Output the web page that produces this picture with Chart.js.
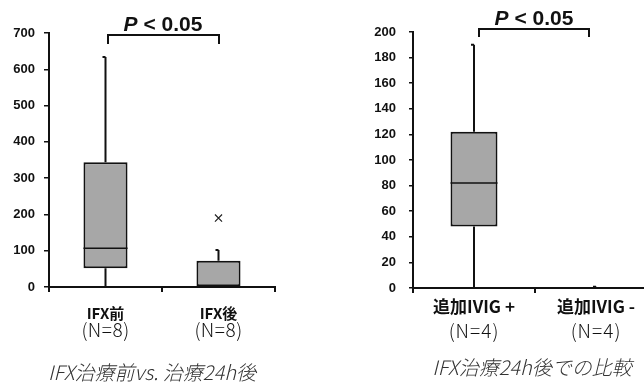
<!DOCTYPE html>
<html>
<head>
<meta charset="utf-8">
<script src="https://cdn.jsdelivr.net/npm/chart.js@4.4.1/dist/chart.umd.min.js"></script>
<style>
  html, body { margin: 0; padding: 0; background: #fff; overflow: hidden; width: 644px; height: 386px; }
  #left  { position: absolute; left: 0;     top: 0; }
  #right { position: absolute; left: 322px; top: 0; }
</style>
</head>
<body>
<canvas id="left" width="322" height="386"></canvas>
<canvas id="right" width="340" height="386"></canvas>
<script>
// --- DATA ---
const LEFT_CATS     = ['IFX前', 'IFX後'];
const LEFT_N        = ['(N=8)', '(N=8)'];
const LEFT_MIN      = [0, 0];
const LEFT_Q1       = [52, 0];
const LEFT_MED      = [107, 0];
const LEFT_Q3       = [344, 72];
const LEFT_MAX      = [634, 102];
const LEFT_OUTLIERS = [null, 190];
const LEFT_TICKS    = [0, 100, 200, 300, 400, 500, 600, 700];
const LEFT_TITLE    = 'IFX治療前vs. 治療24h後';

const RIGHT_CATS    = ['追加IVIG +', '追加IVIG -'];
const RIGHT_N       = ['(N=4)', '(N=4)'];
const RIGHT_MIN     = [0, 0];
const RIGHT_Q1      = [48, 0];
const RIGHT_MED     = [82, 0];
const RIGHT_Q3      = [122, 0.4];
const RIGHT_MAX     = [190, 1];
const RIGHT_TICKS   = [0, 20, 40, 60, 80, 100, 120, 140, 160, 180, 200];
const RIGHT_TITLE   = 'IFX治療24h後での比較';

const P_TEXT = '< 0.05';

const LATIN = "'Liberation Sans', Arial, sans-serif";
const CJK   = "'Noto Sans CJK JP', 'Liberation Sans', sans-serif";
const BOX_FILL = '#a7a7a7';

// whiskers, medians, labels, bracket
const boxExtras = {
    id: 'boxExtras',
    afterDatasetsDraw(chart, args, o) {
        const { ctx, chartArea } = chart;
        const xs = chart.scales.x, ys = chart.scales.y;
        const meta = chart.getDatasetMeta(0);
        ctx.save();
        ctx.strokeStyle = '#111';
        ctx.lineWidth = 2;
        o.q1.forEach((q1, i) => {
            const x = xs.getPixelForValue(i);
            const w = meta.data[i].width;
            ctx.beginPath();
            ctx.moveTo(x, ys.getPixelForValue(o.max[i]));
            ctx.lineTo(x, ys.getPixelForValue(o.q3[i]));
            ctx.moveTo(x, ys.getPixelForValue(q1));
            ctx.lineTo(x, ys.getPixelForValue(o.min[i]));
            // kleine Kappe
            ctx.moveTo(x - 3, ys.getPixelForValue(o.max[i]));
            ctx.lineTo(x, ys.getPixelForValue(o.max[i]));
            ctx.stroke();
            if (o.med[i] > 0) {
                ctx.lineWidth = 1.5;
                ctx.beginPath();
                ctx.moveTo(x - w / 2, ys.getPixelForValue(o.med[i]));
                ctx.lineTo(x + w / 2, ys.getPixelForValue(o.med[i]));
                ctx.stroke();
                ctx.lineWidth = 2;
            }
        });

        // category labels
        ctx.fillStyle = '#111';
        ctx.textAlign = 'center';
        ctx.textBaseline = 'middle';
        o.labels.forEach((lab, i) => {
            const x = xs.getPixelForValue(i);
            ctx.letterSpacing = '0px';
            ctx.font = `bold ${o.labelSize}px ${CJK}`;
            ctx.fillText(lab, x, chartArea.bottom + o.labelDy[0]);
            ctx.letterSpacing = o.nSpacing;
            ctx.font = `300 ${o.nSize}px ${CJK}`;
            ctx.fillText(o.ns[i], x, chartArea.bottom + o.labelDy[1]);
        });
        ctx.letterSpacing = '0px';

        // title
        ctx.fillStyle = '#333';
        ctx.font = `italic 300 20px ${CJK}`;
        ctx.fillText(o.title, o.titleX, o.titleY);

        // bracket
        const b = o.bracket;
        ctx.strokeStyle = '#111';
        ctx.lineWidth = 2;
        ctx.beginPath();
        ctx.moveTo(b.x0, b.y1);
        ctx.lineTo(b.x0, b.y0);
        ctx.lineTo(b.x1, b.y0);
        ctx.lineTo(b.x1, b.y1);
        ctx.stroke();

        ctx.fillStyle = '#111';
        ctx.textBaseline = 'alphabetic';
        ctx.textAlign = 'left';
        ctx.font = `italic bold 21px ${LATIN}`;
        const pw = ctx.measureText('P ').width;
        ctx.font = `bold 21px ${LATIN}`;
        const rw = ctx.measureText(P_TEXT).width;
        const sx = b.tx - (pw + rw) / 2;
        ctx.font = `italic bold 21px ${LATIN}`;
        ctx.fillText('P', sx, b.ty);
        ctx.font = `bold 21px ${LATIN}`;
        ctx.fillText(P_TEXT, sx + pw, b.ty);
        ctx.restore();
    }
};

function buildBox(id, cfg) {
    const datasets = [{
        type: 'bar',
        data: cfg.q1.map((q, i) => [q, cfg.q3[i]]),
        backgroundColor: BOX_FILL,
        borderColor: '#111',
        borderWidth: 2,
        borderSkipped: false,
        barPercentage: cfg.barPct,
        categoryPercentage: 1,
    }];
    if (cfg.outliers) {
        datasets.push({
            type: 'line',
            data: cfg.outliers,
            showLine: false,
            pointStyle: 'crossRot',
            pointRadius: 5,
            borderColor: '#222',
            borderWidth: 1.2,
        });
    }
    return new Chart(document.getElementById(id).getContext('2d'), {
        type: 'bar',
        plugins: [boxExtras],
        data: { labels: cfg.labels, datasets },
        options: {
            responsive: false,
            devicePixelRatio: 1,
            animation: false,
            layout: { padding: { top: cfg.top, right: cfg.right, left: 0, bottom: 0 } },
            scales: {
                x: {
                    offset: true,
                    border: { display: true, color: '#111', width: 2 },
                    grid: { offset: true, drawOnChartArea: false, tickLength: 5, lineWidth: 2, color: '#111' },
                    ticks: { display: false },
                    afterFit(s) { s.height = cfg.xHeight; },
                },
                y: {
                    min: 0,
                    max: cfg.ticks[cfg.ticks.length - 1],
                    afterBuildTicks(s) { s.ticks = cfg.ticks.map(v => ({ value: v })); },
                    border: { display: true, color: '#111', width: 2 },
                    grid: { drawOnChartArea: false, tickLength: cfg.tickLen, lineWidth: 1.5, color: '#111' },
                    ticks: {
                        color: '#111',
                        padding: cfg.tickPad,
                        font: { family: LATIN, size: 13, weight: 'bold' },
                    },
                    afterFit(s) { s.width = cfg.yWidth; },
                }
            },
            plugins: {
                legend: { display: false },
                tooltip: { enabled: false },
                boxExtras: {
                    min: cfg.min, q1: cfg.q1, med: cfg.med, q3: cfg.q3, max: cfg.max,
                    labels: cfg.labels, ns: cfg.ns, labelSize: cfg.labelSize, labelDy: cfg.labelDy,
                    nSize: cfg.nSize, nSpacing: cfg.nSpacing,
                    title: cfg.title, titleX: cfg.titleX, titleY: cfg.titleY,
                    bracket: cfg.bracket,
                }
            }
        }
    });
}

buildBox('left', {
    labels: LEFT_CATS, ns: LEFT_N,
    min: LEFT_MIN, q1: LEFT_Q1, med: LEFT_MED, q3: LEFT_Q3, max: LEFT_MAX,
    outliers: LEFT_OUTLIERS, ticks: LEFT_TICKS, title: LEFT_TITLE,
    barPct: 0.39, top: 33, right: 47, xHeight: 99, yWidth: 49, tickLen: 5, tickPad: 9,
    labelSize: 15, labelDy: [26, 43], nSize: 19, nSpacing: '0.5px',
    titleX: 152, titleY: 372,
    bracket: { x0: 108, x1: 219, y0: 35, y1: 44, tx: 163, ty: 31 },
});

buildBox('right', {
    labels: RIGHT_CATS, ns: RIGHT_N,
    min: RIGHT_MIN, q1: RIGHT_Q1, med: RIGHT_MED, q3: RIGHT_Q3, max: RIGHT_MAX,
    outliers: null, ticks: RIGHT_TICKS, title: RIGHT_TITLE,
    barPct: 0.385, top: 32, right: 5, xHeight: 98, yWidth: 91, tickLen: 4, tickPad: 13,
    labelSize: 17, labelDy: [19, 43], nSize: 19, nSpacing: '1px',
    titleX: 210, titleY: 367,
    bracket: { x0: 157, x1: 267, y0: 29, y1: 37, tx: 212, ty: 25 },
});
</script>
</body>
</html>
